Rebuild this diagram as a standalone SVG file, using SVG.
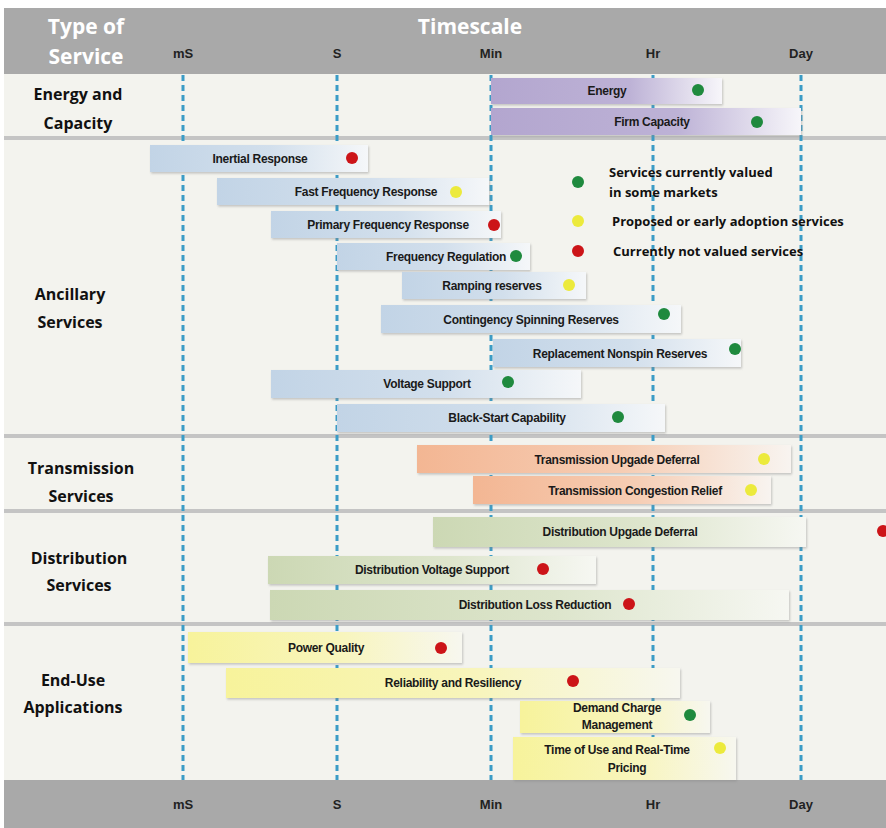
<svg xmlns="http://www.w3.org/2000/svg" width="886" height="828" viewBox="0 0 886 828">
<defs>
<linearGradient id="gP" x1="0" x2="1" y1="0" y2="0"><stop offset="0" stop-color="#b3a6cf"/><stop offset="0.6" stop-color="#bdb2d6"/><stop offset="1" stop-color="#f7f6fa"/></linearGradient>
<linearGradient id="gB" x1="0" x2="1" y1="0" y2="0"><stop offset="0" stop-color="#c2d4e6"/><stop offset="0.55" stop-color="#d2dfec"/><stop offset="1" stop-color="#f5f7f9"/></linearGradient>
<linearGradient id="gO" x1="0" x2="1" y1="0" y2="0"><stop offset="0" stop-color="#f3b693"/><stop offset="0.55" stop-color="#f6cdb4"/><stop offset="1" stop-color="#f8f4f0"/></linearGradient>
<linearGradient id="gG" x1="0" x2="1" y1="0" y2="0"><stop offset="0" stop-color="#ccd8b4"/><stop offset="0.55" stop-color="#dde5cc"/><stop offset="1" stop-color="#f6f7f2"/></linearGradient>
<linearGradient id="gY" x1="0" x2="1" y1="0" y2="0"><stop offset="0" stop-color="#f7f39b"/><stop offset="0.55" stop-color="#f8f5bc"/><stop offset="1" stop-color="#f7f7ef"/></linearGradient>
<filter id="sh" x="-5%" y="-20%" width="110%" height="150%"><feDropShadow dx="1" dy="1.5" stdDeviation="1" flood-color="#888" flood-opacity="0.45"/></filter>
</defs>
<style>
.bar{filter:url(#sh)}
.bl{font-family:"Liberation Sans",Arial,sans-serif;font-weight:bold;font-size:12px;fill:#1a1a1a;text-anchor:middle;letter-spacing:-0.3px}
.rl{font-family:"Open Sans","Liberation Sans",sans-serif;font-weight:bold;font-size:16px;fill:#111;text-anchor:middle}
.hd{font-family:"Open Sans","Liberation Sans",sans-serif;font-weight:bold;font-size:21px;fill:#fff;text-anchor:middle}
.ax{font-family:"Liberation Sans",Arial,sans-serif;font-weight:bold;font-size:13px;fill:#222;text-anchor:middle}
.lg{font-family:"Open Sans","Liberation Sans",sans-serif;font-weight:bold;font-size:13px;fill:#111}
.grid line{stroke:#3b9cc6;stroke-width:3;stroke-dasharray:6 4}
.sep{fill:#c4c4c4}
.dg{fill:#1f8a3e}.dy{fill:#ecea3c}.dr{fill:#cc1418}
</style>
<rect x="0" y="0" width="886" height="828" fill="#ffffff"/>
<rect x="4" y="8" width="882" height="820" fill="#f3f3ee"/>
<g id="header">
<rect x="4" y="8" width="882" height="66" fill="#a9a9a9"/>
<text class="hd" x="86" y="34">Type of</text>
<text class="hd" x="86" y="64">Service</text>
<text class="hd" x="470" y="34">Timescale</text>
<text class="ax" x="183" y="58">mS</text>
<text class="ax" x="337" y="58">S</text>
<text class="ax" x="491" y="58">Min</text>
<text class="ax" x="653" y="58">Hr</text>
<text class="ax" x="801" y="58">Day</text>
</g>
<g id="footer">
<rect x="4" y="780" width="882" height="48" fill="#a9a9a9"/>
<text class="ax" x="183" y="809">mS</text>
<text class="ax" x="337" y="809">S</text>
<text class="ax" x="491" y="809">Min</text>
<text class="ax" x="653" y="809">Hr</text>
<text class="ax" x="801" y="809">Day</text>
</g>
<g id="separators">
<rect class="sep" x="4" y="136" width="882" height="4"/>
<rect class="sep" x="4" y="434" width="882" height="4"/>
<rect class="sep" x="4" y="509" width="882" height="4"/>
<rect class="sep" x="4" y="622" width="882" height="4"/>
</g>
<g id="connectors" class="grid">
<line x1="183" y1="75" x2="183" y2="780"/>
<line x1="337" y1="75" x2="337" y2="780"/>
<line x1="491" y1="75" x2="491" y2="780"/>
<line x1="653" y1="75" x2="653" y2="780"/>
<line x1="801" y1="75" x2="801" y2="780"/>
</g>
<g id="row-labels">
<text class="rl" x="78" y="100">Energy and</text>
<text class="rl" x="78" y="129">Capacity</text>
<text class="rl" x="70" y="300">Ancillary</text>
<text class="rl" x="70" y="328">Services</text>
<text class="rl" x="81" y="474">Transmission</text>
<text class="rl" x="81" y="502">Services</text>
<text class="rl" x="79" y="564">Distribution</text>
<text class="rl" x="79" y="591">Services</text>
<text class="rl" x="73" y="686">End-Use</text>
<text class="rl" x="73" y="713">Applications</text>
</g>
<g id="energy"><rect class="bar" x="491" y="78" width="231" height="26" fill="url(#gP)"/><text class="bl" x="607" y="95">Energy</text><circle class="dg" cx="698" cy="90" r="6"/></g>
<g id="firm-capacity"><rect class="bar" x="491" y="108" width="310" height="27" fill="url(#gP)"/><text class="bl" x="652" y="126">Firm Capacity</text><circle class="dg" cx="757" cy="122" r="6"/></g>

<g id="inertial-response"><rect class="bar" x="150" y="145" width="218" height="27" fill="url(#gB)"/><text class="bl" x="260" y="163">Inertial Response</text><circle class="dr" cx="352" cy="158" r="6"/></g>
<g id="fast-frequency-response"><rect class="bar" x="217" y="178" width="272" height="27" fill="url(#gB)"/><text class="bl" x="366" y="196">Fast Frequency Response</text><circle class="dy" cx="456" cy="192" r="6"/></g>
<g id="primary-frequency-response"><rect class="bar" x="271" y="211" width="230" height="27" fill="url(#gB)"/><text class="bl" x="388" y="229">Primary Frequency Response</text><circle class="dr" cx="494" cy="225" r="6"/></g>
<g id="frequency-regulation"><rect class="bar" x="337" y="243" width="193" height="27" fill="url(#gB)"/><text class="bl" x="446" y="261">Frequency Regulation</text><circle class="dg" cx="516" cy="256" r="6"/></g>
<g id="ramping-reserves"><rect class="bar" x="402" y="272" width="184" height="27" fill="url(#gB)"/><text class="bl" x="492" y="290">Ramping reserves</text><circle class="dy" cx="569" cy="285" r="6"/></g>
<g id="contingency-spinning-reserves"><rect class="bar" x="381" y="305" width="300" height="28" fill="url(#gB)"/><text class="bl" x="531" y="324">Contingency Spinning Reserves</text><circle class="dg" cx="664" cy="314" r="6"/></g>
<g id="replacement-nonspin-reserves"><rect class="bar" x="493" y="339" width="248" height="28" fill="url(#gB)"/><text class="bl" x="620" y="358">Replacement Nonspin Reserves</text><circle class="dg" cx="735" cy="349" r="6"/></g>
<g id="voltage-support"><rect class="bar" x="271" y="370" width="310" height="28" fill="url(#gB)"/><text class="bl" x="427" y="388">Voltage Support</text><circle class="dg" cx="508" cy="382" r="6"/></g>
<g id="black-start-capability"><rect class="bar" x="337" y="404" width="328" height="28" fill="url(#gB)"/><text class="bl" x="507" y="422">Black-Start Capability</text><circle class="dg" cx="618" cy="417" r="6"/></g>

<g id="legend">
<circle class="dg" cx="578" cy="182" r="6"/>
<text class="lg" x="609" y="177">Services currently valued</text>
<text class="lg" x="609" y="197">in some markets</text>
<circle class="dy" cx="578" cy="221" r="6"/>
<text class="lg" x="612" y="226">Proposed or early adoption services</text>
<circle class="dr" cx="578" cy="251" r="6"/>
<text class="lg" x="613" y="256">Currently not valued services</text>
</g>

<g id="transmission-upgrade-deferral"><rect class="bar" x="417" y="445" width="374" height="28" fill="url(#gO)"/><text class="bl" x="617" y="464">Transmission Upgade Deferral</text><circle class="dy" cx="764" cy="459" r="6"/></g>
<g id="transmission-congestion-relief"><rect class="bar" x="473" y="476" width="298" height="28" fill="url(#gO)"/><text class="bl" x="635" y="495">Transmission Congestion Relief</text><circle class="dy" cx="751" cy="490" r="6"/></g>

<g id="distribution-upgrade-deferral"><rect class="bar" x="433" y="517" width="373" height="30" fill="url(#gG)"/><text class="bl" x="620" y="536">Distribution Upgade Deferral</text><circle class="dr" cx="883" cy="531" r="6"/></g>
<g id="distribution-voltage-support"><rect class="bar" x="268" y="556" width="328" height="28" fill="url(#gG)"/><text class="bl" x="432" y="574">Distribution Voltage Support</text><circle class="dr" cx="543" cy="569" r="6"/></g>
<g id="distribution-loss-reduction"><rect class="bar" x="270" y="590" width="519" height="30" fill="url(#gG)"/><text class="bl" x="535" y="609">Distribution Loss Reduction</text><circle class="dr" cx="629" cy="604" r="6"/></g>

<g id="power-quality"><rect class="bar" x="188" y="632" width="274" height="31" fill="url(#gY)"/><text class="bl" x="326" y="652">Power Quality</text><circle class="dr" cx="441" cy="648" r="6"/></g>
<g id="reliability-and-resiliency"><rect class="bar" x="226" y="668" width="454" height="30" fill="url(#gY)"/><text class="bl" x="453" y="687">Reliability and Resiliency</text><circle class="dr" cx="573" cy="681" r="6"/></g>
<g id="demand-charge-management"><rect class="bar" x="520" y="701" width="190" height="32" fill="url(#gY)"/><text class="bl" x="617" y="712">Demand Charge</text><text class="bl" x="617" y="729">Management</text><circle class="dg" cx="690" cy="715" r="6"/></g>
<g id="time-of-use-pricing"><rect class="bar" x="513" y="737" width="223" height="43" fill="url(#gY)"/><text class="bl" x="617" y="754">Time of Use and Real-Time</text><text class="bl" x="627" y="772">Pricing</text><circle class="dy" cx="720" cy="748" r="6"/></g>
</svg>
